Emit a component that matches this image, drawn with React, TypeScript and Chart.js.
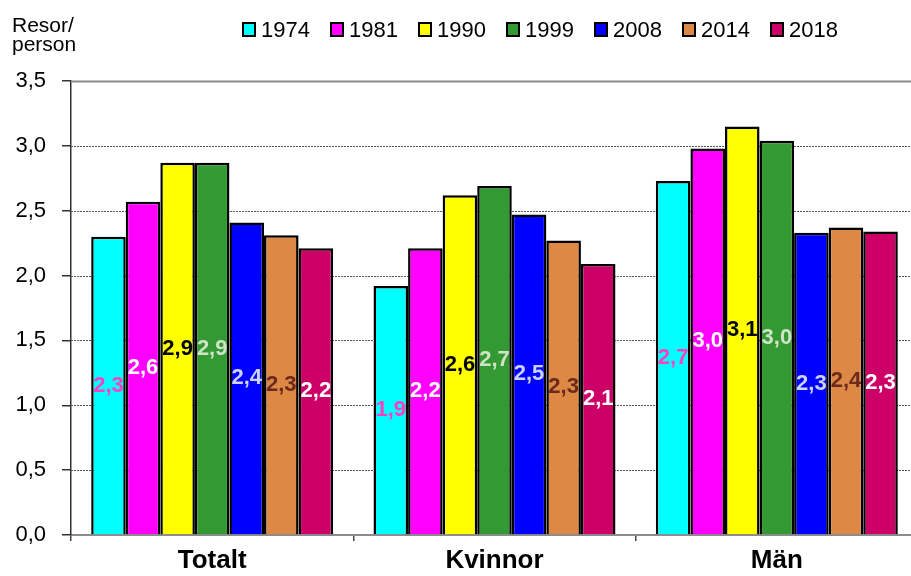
import React, { useEffect, useRef } from 'react';
import { Chart, registerables } from 'chart.js';

Chart.register(...registerables);

const categories = ['Totalt', 'Kvinnor', 'Män'];
const years = ['1974', '1981', '1990', '1999', '2008', '2014', '2018'];
const v1974 = [2.3, 1.92, 2.73];
const v1981 = [2.57, 2.21, 2.98];
const v1990 = [2.87, 2.62, 3.15];
const v1999 = [2.87, 2.69, 3.04];
const v2008 = [2.41, 2.47, 2.33];
const v2014 = [2.31, 2.27, 2.37];
const v2018 = [2.21, 2.09, 2.34];
const seriesValues = [v1974, v1981, v1990, v1999, v2008, v2014, v2018];
const barColors = ['#00ffff', '#ff00ff', '#ffff00', '#339933', '#0000ff', '#dd8844', '#cc0066'];
const labelColors = ['#ff40c0', '#ffffff', '#000000', '#cfe3c6', '#cdd3ff', '#6b2a1c', '#ffffff'];
const yTickValues = [0, 0.5, 1.0, 1.5, 2.0, 2.5, 3.0, 3.5];
const yTitleLines = ['Resor/', 'person'];

const FONT = "'Liberation Sans', Arial, Helvetica, sans-serif";
const fmt = (v: number) => v.toFixed(1).replace('.', ',');

const gridPlugin = {
  id: 'customGrid',
  beforeDatasetsDraw(chart: any) {
    const { ctx, chartArea, scales } = chart;
    const y = scales.y;
    ctx.save();
    yTickValues.forEach((v) => {
      if (v === 0) return;
      const py = Math.round(y.getPixelForValue(v)) + 0.5;
      if (v === 3.5) {
        ctx.strokeStyle = '#8c8c8c';
        ctx.lineWidth = 2;
        ctx.setLineDash([]);
      } else {
        ctx.strokeStyle = '#555555';
        ctx.lineWidth = 1;
        ctx.setLineDash([2, 1]);
      }
      ctx.beginPath();
      ctx.moveTo(chartArea.left, py);
      ctx.lineTo(chartArea.right, py);
      ctx.stroke();
    });
    ctx.restore();
  },
};

const labelPlugin = {
  id: 'barLabels',
  afterDatasetsDraw(chart: any) {
    const { ctx } = chart;
    ctx.save();
    ctx.font = `bold 22px ${FONT}`;
    ctx.textAlign = 'center';
    ctx.textBaseline = 'middle';
    chart.data.datasets.forEach((ds: any, i: number) => {
      const meta = chart.getDatasetMeta(i);
      meta.data.forEach((el: any, j: number) => {
        const val = ds.data[j];
        const cy = (el.y + el.base) / 2;
        ctx.fillStyle = labelColors[i];
        ctx.fillText(fmt(val), el.x, cy);
      });
    });
    ctx.restore();
  },
};

const legendPlugin = {
  id: 'customLegend',
  afterDraw(chart: any) {
    const { ctx } = chart;
    ctx.save();
    // y-axis title
    ctx.font = `21px ${FONT}`;
    ctx.fillStyle = '#000';
    ctx.textAlign = 'left';
    ctx.textBaseline = 'alphabetic';
    ctx.fillText(yTitleLines[0], 12, 32);
    ctx.fillText(yTitleLines[1], 12, 51);
    // legend
    ctx.font = `22px ${FONT}`;
    years.forEach((yr, i) => {
      const bx = 243 + i * 88;
      ctx.fillStyle = barColors[i];
      ctx.fillRect(bx, 23, 12, 13);
      ctx.strokeStyle = '#000';
      ctx.lineWidth = 2;
      ctx.strokeRect(bx, 23, 12, 13);
      ctx.fillStyle = '#000';
      ctx.fillText(yr, bx + 18, 37);
    });
    ctx.restore();
  },
};

export default function App() {
  const ref = useRef<HTMLCanvasElement | null>(null);

  useEffect(() => {
    document.body.style.margin = '0';
    const canvas = ref.current;
    if (!canvas) return;
    const chart = new Chart(canvas, {
      type: 'bar',
      data: {
        labels: categories,
        datasets: years.map((yr, i) => ({
          label: yr,
          data: seriesValues[i],
          backgroundColor: barColors[i],
          borderColor: '#000000',
          borderWidth: 2.5,
          categoryPercentage: 0.857,
          barPercentage: 1,
        })),
      },
      options: {
        responsive: false,
        animation: false,
        devicePixelRatio: 1,
        layout: { padding: { top: 81, left: 0, right: 0, bottom: 0 } },
        plugins: {
          legend: { display: false },
          tooltip: { enabled: false },
          title: { display: false },
        },
        scales: {
          x: {
            grid: {
              display: true,
              drawOnChartArea: false,
              drawTicks: true,
              tickLength: 6,
              color: '#444444',
              lineWidth: 1.5,
              offset: true,
            },
            border: { display: true, color: '#8c8c8c', width: 2 },
            ticks: {
              color: '#000000',
              font: { family: FONT, size: 26, weight: 'bold' },
              padding: 4,
            },
            afterFit: (s: any) => {
              s.height = 41;
            },
          },
          y: {
            min: 0,
            max: 3.5,
            afterBuildTicks: (s: any) => {
              s.ticks = yTickValues.map((v) => ({ value: v }));
            },
            ticks: {
              stepSize: 0.5,
              callback: (v: any) => fmt(Number(v)),
              color: '#000000',
              font: { family: FONT, size: 22 },
              padding: 16,
            },
            grid: {
              display: true,
              drawOnChartArea: false,
              drawTicks: true,
              tickLength: 9,
              color: '#333333',
              lineWidth: 1.5,
            },
            border: { display: true, color: '#333333', width: 1.5 },
            afterFit: (s: any) => {
              s.width = 71;
            },
          },
        },
      },
      plugins: [gridPlugin, labelPlugin, legendPlugin],
    } as any);
    return () => chart.destroy();
  }, []);

  return (
    <div style={{ width: 911, height: 576, overflow: 'hidden', background: '#fff' }}>
      <canvas ref={ref} width={918} height={576} style={{ display: 'block' }} />
    </div>
  );
}
